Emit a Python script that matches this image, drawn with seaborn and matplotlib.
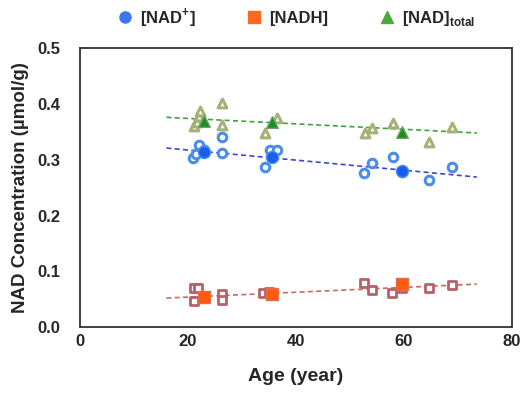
import numpy as np
import pandas as pd
import matplotlib
matplotlib.use("Agg")
import matplotlib.pyplot as plt
from matplotlib.lines import Line2D
import seaborn as sns

# individual subjects (open markers)
nad_age = [21.0, 21.5, 22.0, 23.0, 26.3, 26.3, 34.3, 35.2, 36.5, 52.6, 54.0, 58.0, 59.6, 64.6, 68.9]
nad_val = [0.303, 0.310, 0.326, 0.318, 0.341, 0.312, 0.287, 0.317, 0.317, 0.276, 0.294, 0.305, 0.278, 0.263, 0.287]
nadh_age = [21.1, 21.9, 21.1, 26.3, 26.3, 33.9, 35.0, 52.6, 54.0, 57.8, 59.6, 64.6, 68.9]
nadh_val = [0.070, 0.070, 0.046, 0.059, 0.048, 0.061, 0.062, 0.079, 0.066, 0.061, 0.070, 0.070, 0.075]
total_age = [21.2, 21.6, 22.0, 22.2, 26.3, 26.3, 34.3, 36.5, 52.8, 54.1, 58.0, 64.6, 68.9]
total_val = [0.360, 0.367, 0.378, 0.388, 0.401, 0.362, 0.348, 0.375, 0.348, 0.357, 0.366, 0.332, 0.358]

# group means (filled markers)
mean_age = [23.0, 35.5, 59.6]
nad_mean = [0.314, 0.305, 0.280]
nadh_mean = [0.054, 0.059, 0.077]
total_mean = [0.369, 0.367, 0.350]

# trend lines (end points)
trend_age = [16, 73.5]
nad_trend = [0.321, 0.269]
nadh_trend = [0.052, 0.077]
total_trend = [0.376, 0.348]

sns.set_style("white")
plt.rcParams['font.family'] = ['Liberation Sans', 'DejaVu Sans']
plt.rcParams['font.weight'] = 'bold'
plt.rcParams['mathtext.fontset'] = 'custom'
plt.rcParams['mathtext.rm'] = 'Liberation Sans:bold'
plt.rcParams['mathtext.bf'] = 'Liberation Sans:bold'

fig = plt.figure(figsize=(5.28, 3.95), dpi=100)
ax = fig.add_axes([0.1515, 0.172, 0.818, 0.706])

# trend lines
sns.lineplot(x=trend_age, y=total_trend, ax=ax, color='#3aa63a', lw=1.2, linestyle=(0, (3, 2)))
sns.lineplot(x=trend_age, y=nad_trend, ax=ax, color='#3a46d0', lw=1.2, linestyle=(0, (3, 2)))
sns.lineplot(x=trend_age, y=nadh_trend, ax=ax, color='#cc6a5e', lw=1.2, linestyle=(0, (3, 2)))

# open markers
sns.scatterplot(x=total_age, y=total_val, ax=ax, marker='^', s=40, color='white',
                edgecolor='#a8b07a', linewidth=2.2, zorder=3)
sns.scatterplot(x=nad_age, y=nad_val, ax=ax, marker='o', s=38, color='white',
                edgecolor='#4a8ee8', linewidth=2.2, zorder=3)
sns.scatterplot(x=nadh_age, y=nadh_val, ax=ax, marker='s', s=34, color='white',
                edgecolor='#b8606a', linewidth=2.0, zorder=3)

# filled means
sns.scatterplot(x=mean_age, y=total_mean, ax=ax, marker='^', s=70, color='#1b8f1b',
                edgecolor='#6aa06a', linewidth=1, zorder=4)
sns.scatterplot(x=mean_age, y=nad_mean, ax=ax, marker='o', s=75, color='#1a5ef0',
                edgecolor='#4a8ee8', linewidth=1, zorder=4)
sns.scatterplot(x=mean_age, y=nadh_mean, ax=ax, marker='s', s=70, color='#ff5a10',
                edgecolor='#e0704a', linewidth=1, zorder=4)

ax.set_xlim(0, 80)
ax.set_ylim(0, 0.5)
ax.set_xticks([0, 20, 40, 60, 80])
ax.set_yticks([0.0, 0.1, 0.2, 0.3, 0.4, 0.5])
ax.set_yticklabels(['0.0', '0.1', '0.2', '0.3', '0.4', '0.5'])
ax.tick_params(axis='x', direction='inout', length=6, width=1.2, labelsize=12, pad=2)
ax.tick_params(axis='y', direction='out', length=4, width=1.2, labelsize=12, pad=10)
for lab in ax.get_xticklabels() + ax.get_yticklabels():
    lab.set_fontweight('bold')
for sp in ax.spines.values():
    sp.set_visible(True)
    sp.set_color('#333333')
    sp.set_linewidth(1.3)

ax.set_xlabel('Age (year)', fontsize=14, fontweight='bold', labelpad=14)
ax.set_ylabel('NAD Concentration (µmol/g)', fontsize=13.5, fontweight='bold', labelpad=6)

handles = [
    Line2D([], [], marker='o', ls='none', color='#3a78f0', markersize=8),
    Line2D([], [], marker='s', ls='none', color='#ff6a20', markersize=8),
    Line2D([], [], marker='^', ls='none', color='#4aaa3a', markersize=8),
]
labels = ['[NAD$^{+}$]', '[NADH]', '[NAD]$_{\\mathrm{total}}$']
fig.legend(handles, labels, loc='center', bbox_to_anchor=(0.559, 0.955), ncol=3,
           frameon=False, prop={'size': 12, 'weight': 'bold'}, handletextpad=0.3,
           columnspacing=2.9, handlelength=1.2)

fig.savefig('out.png', dpi=100)
